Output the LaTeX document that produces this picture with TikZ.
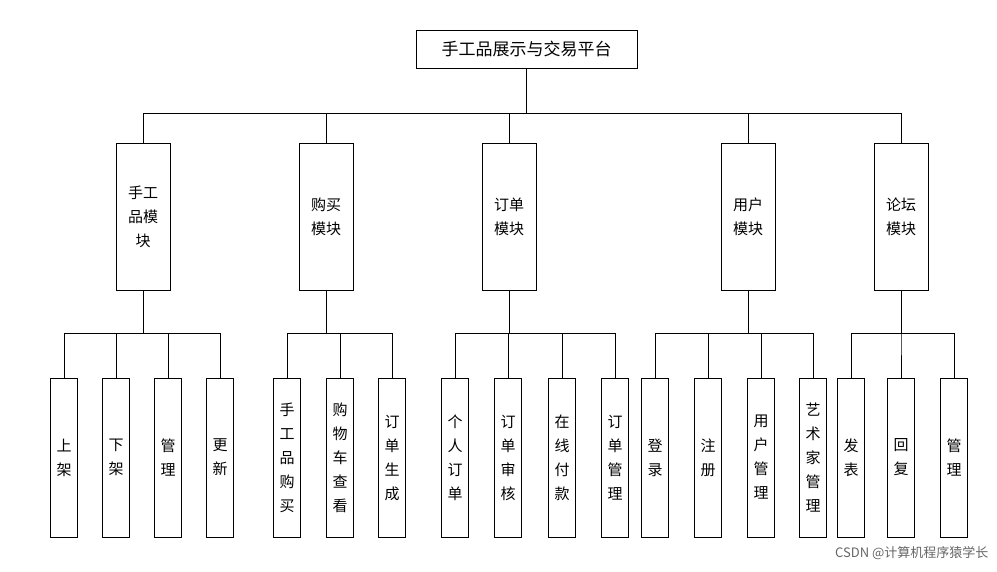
\documentclass[tikz,border=0pt]{standalone}
\usepackage{fontspec}
\setmainfont{Noto Sans CJK SC}
\usetikzlibrary{positioning}
\tikzset{
  box/.style = {draw=black, fill=white, align=center, inner sep=0pt, font=\fontsize{15}{24}\selectfont},
  root/.style = {box, minimum width=221pt, minimum height=38pt, font=\fontsize{17}{20}\selectfont},
  module/.style = {box, minimum width=54pt, minimum height=147pt},
  leaf/.style = {box, minimum width=27pt, minimum height=159pt},
  link/.style = {draw=black, line width=0.8pt}
}

\begin{document}
\begin{tikzpicture}[x=1pt, y=-1pt]
        \useasboundingbox (0,0) rectangle (997,571);

        \node [root] (R) at (526.5, 49) {手工品展示与交易平台};

        % modules
        \node [module] (M1) at (143, 216.5) {手工\\品模\\块};
        \node [module] (M2) at (326, 216.5) {购买\\模块};
        \node [module] (M3) at (509, 216.5) {订单\\模块};
        \node [module] (M4) at (748, 216.5) {用户\\模块};
        \node [module] (M5) at (901, 216.5) {论坛\\模块};

        % leaves
        \node [leaf] (L11) at ( 64, 457.5) {上\\架};
        \node [leaf] (L12) at (116, 457.5) {下\\架};
        \node [leaf] (L13) at (168, 457.5) {管\\理};
        \node [leaf] (L14) at (220, 457.5) {更\\新};

        \node [leaf] (L21) at (287, 457.5) {手\\工\\品\\购\\买};
        \node [leaf] (L22) at (340, 457.5) {购\\物\\车\\查\\看};
        \node [leaf] (L23) at (392, 457.5) {订\\单\\生\\成};

        \node [leaf] (L31) at (455, 457.5) {个\\人\\订\\单};
        \node [leaf] (L32) at (508, 457.5) {订\\单\\审\\核};
        \node [leaf] (L33) at (562, 457.5) {在\\线\\付\\款};
        \node [leaf] (L34) at (615, 457.5) {订\\单\\管\\理};

        \node [leaf] (L41) at (655, 457.5) {登\\录};
        \node [leaf] (L42) at (708, 457.5) {注\\册};
        \node [leaf] (L43) at (761, 457.5) {用\\户\\管\\理};
        \node [leaf] (L44) at (813, 457.5) {艺\\术\\家\\管\\理};

        \node [leaf] (L51) at (851, 457.5) {发\\表};
        \node [leaf] (L52) at (901, 457.5) {回\\复};
        \node [leaf] (L53) at (954, 457.5) {管\\理};

        \foreach \m in {M1, M2, M3, M4, M5}
            \draw [link] (R.south) -- ++(0, 45) -| (\m.north);

        \foreach \l in {L11, L12, L13, L14}
            \draw [link] (M1.south) -- ++(0, 43) -| (\l.north);
        \foreach \l in {L21, L22, L23}
            \draw [link] (M2.south) -- ++(0, 43) -| (\l.north);
        \foreach \l in {L31, L32, L33, L34}
            \draw [link] (M3.south) -- ++(0, 43) -| (\l.north);
        \foreach \l in {L41, L42, L43, L44}
            \draw [link] (M4.south) -- ++(0, 43) -| (\l.north);
        \foreach \l in {L51, L52, L53}
            \draw [link] (M5.south) -- ++(0, 43) -| (\l.north);

        \node [font=\fontsize{13}{15}\selectfont, text=black!60, anchor=east] (W) at (992, 553) {CSDN @计算机程序猿学长};
    \end{tikzpicture}
\end{document}
